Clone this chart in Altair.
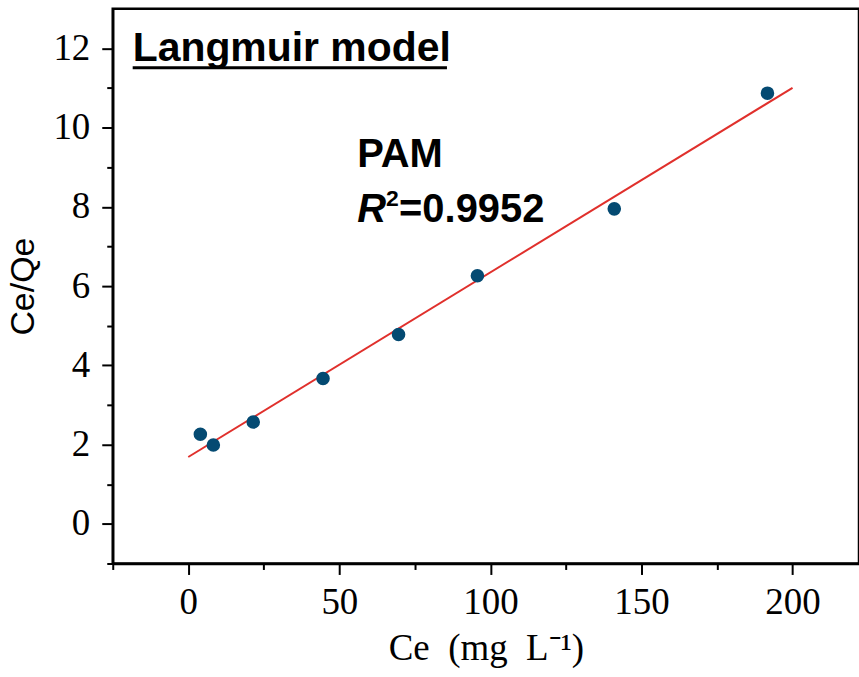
import altair as alt
import pandas as pd

# Equilibrium concentration Ce (mg/L) and Ce/Qe for PAM
ce = [4.0, 8.3, 21.5, 44.6, 69.6, 95.7, 141.0, 191.7]
ce_qe = [2.26, 1.99, 2.57, 3.67, 4.78, 6.26, 7.95, 10.87]

x_major = [0, 50, 100, 150, 200]
x_minor = [-25, 25, 75, 125, 175]
y_major = [0, 2, 4, 6, 8, 10, 12]
y_minor = [-1, 1, 3, 5, 7, 9, 11]

title_text = ["Langmuir model"]
sample_text = ["PAM"]
r_text = ["R"]
r_sup = ["2"]
r_value = ["=0.9952"]

df = pd.DataFrame({"Ce": ce, "CeQe": ce_qe})

xs = alt.Scale(domain=[-25, 222], nice=False, zero=False)
ys = alt.Scale(domain=[-1, 13], nice=False, zero=False)

SERIF = "Liberation Serif"
SANS = "Liberation Sans"

major_x = alt.Axis(values=x_major, orient="bottom",
                   title="Ce\u2002(mg\u2002L\u207b\u00b9)",
                   format="d", labelPadding=10, titlePadding=10,
                   titleFont=SERIF, titleFontSize=37)
major_y = alt.Axis(values=y_major, orient="left", title="Ce/Qe",
                   format="d", labelPadding=12, titlePadding=12,
                   titleFont=SANS, titleFontSize=34)
minor_x = alt.Axis(values=x_minor, orient="bottom", labels=False, title=None,
                   domain=False, tickSize=6)
minor_y = alt.Axis(values=y_minor, orient="left", labels=False, title=None,
                   domain=False, tickSize=6)

fit = (
    alt.Chart(df)
    .transform_regression("Ce", "CeQe", extent=[0, 200])
    .mark_line(color="#e0302c", strokeWidth=2)
    .encode(
        x=alt.X("Ce:Q", scale=xs, axis=minor_x),
        y=alt.Y("CeQe:Q", scale=ys, axis=minor_y),
    )
)

points = (
    alt.Chart(df)
    .mark_circle(size=185, color="#044a72", opacity=1)
    .encode(
        x=alt.X("Ce:Q", scale=xs, axis=major_x),
        y=alt.Y("CeQe:Q", scale=ys, axis=major_y),
    )
)


def label(values, x, y, size, italic=False):
    return (
        alt.Chart(pd.DataFrame({"t": values}))
        .mark_text(font=SANS, fontSize=size, fontWeight="bold",
                   fontStyle="italic" if italic else "normal",
                   align="left", baseline="alphabetic", color="black")
        .encode(text="t:N", x=alt.value(x), y=alt.value(y))
    )


heading = label(title_text, 20, 52, 41)
underline = (
    alt.Chart(pd.DataFrame({"t": title_text}))
    .mark_rule(color="black", strokeWidth=3)
    .encode(x=alt.value(20), x2=alt.value(335), y=alt.value(59))
)
pam = label(sample_text, 245, 159, 40)
r_main = label(r_text, 245, 214, 40, italic=True)
r_two = label(r_sup, 274, 198, 23)
r_val = label(r_value, 287, 214, 40)

chart = (
    alt.layer(fit, points, heading, underline, pam, r_main, r_two, r_val)
    .resolve_axis(x="independent", y="independent")
    .properties(
        width=748,
        height=556,
        padding={"left": 113, "top": 8, "right": 0, "bottom": 113},
        autosize=alt.AutoSizeParams(type="none"),
        background="white",
    )
    .configure_view(stroke="black", strokeWidth=2.5)
    .configure_axis(
        grid=False,
        domainColor="black",
        domainWidth=2.5,
        tickColor="black",
        tickWidth=2,
        tickSize=11,
        labelFont=SERIF,
        labelFontSize=37,
        labelColor="black",
        titleFontWeight="normal",
        titleColor="black",
    )
)

chart.save("out.html", embed_options={"renderer": "svg", "actions": False})
